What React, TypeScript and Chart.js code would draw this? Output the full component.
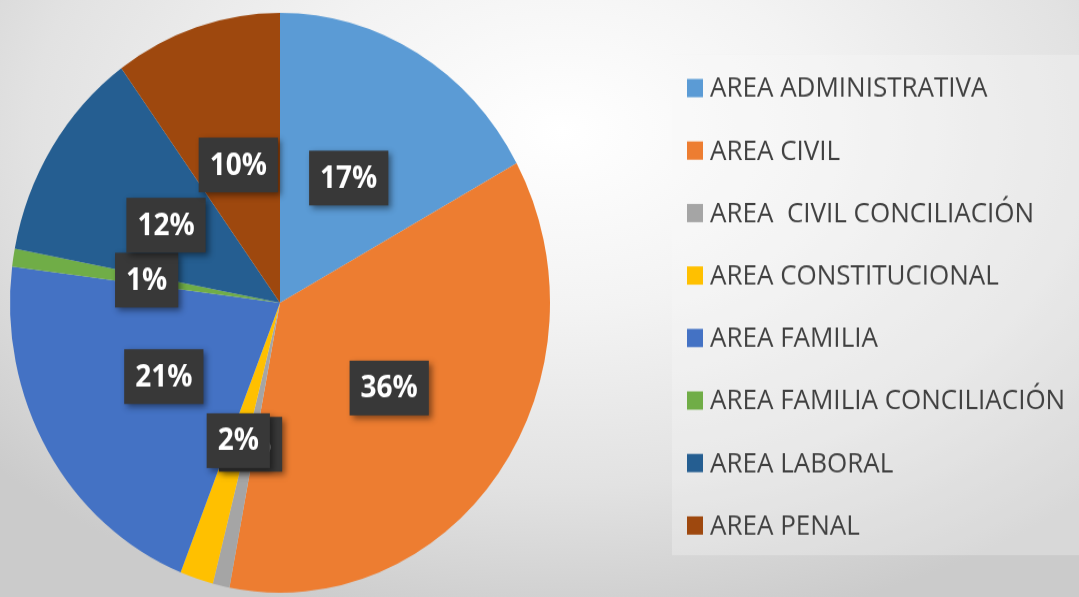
import React, { useEffect, useRef } from "react";
import { Chart, registerables } from "chart.js";

Chart.register(...registerables);

const categories = [
  "AREA ADMINISTRATIVA",
  "AREA CIVIL",
  "AREA  CIVIL CONCILIACIÓN",
  "AREA CONSTITUCIONAL",
  "AREA FAMILIA",
  "AREA FAMILIA CONCILIACIÓN",
  "AREA LABORAL",
  "AREA PENAL",
];
const shares = [17, 36, 1, 2, 21, 1, 12, 10];
const valueLabels = ["17%", "36%", "1%", "2%", "21%", "1%", "12%", "10%"];
const sliceColors = [
  "#5B9BD5",
  "#ED7D31",
  "#A5A5A5",
  "#FFC000",
  "#4472C4",
  "#70AD47",
  "#255E91",
  "#9E480E",
];

const W = 1079;
const H = 556;
const SY = 597 / 556;

const labelPlugin = {
  id: "boxLabels",
  afterDatasetsDraw(chart: any) {
    const ctx = chart.ctx;
    const meta = chart.getDatasetMeta(0);
    ctx.save();
    ctx.font = "bold 28px 'Open Sans', sans-serif";
    ctx.textAlign = "center";
    ctx.textBaseline = "middle";
    meta.data.forEach((arc: any, i: number) => {
      const p = arc.tooltipPosition();
      const txt = valueLabels[i];
      const tw = ctx.measureText(txt).width;
      const bw = tw + 22;
      const bh = 51;
      ctx.save();
      ctx.shadowColor = "rgba(0,0,0,0.45)";
      ctx.shadowBlur = 6;
      ctx.shadowOffsetX = 3;
      ctx.shadowOffsetY = 3;
      ctx.fillStyle = "#383838";
      ctx.fillRect(p.x - bw / 2, p.y - bh / 2, bw, bh);
      ctx.restore();
      ctx.fillStyle = "#ffffff";
      ctx.fillText(txt, p.x, p.y + 1);
    });
    ctx.restore();
  },
};

const legendPlugin = {
  id: "sideLegend",
  afterDraw(chart: any) {
    const ctx = chart.ctx;
    ctx.save();
    ctx.fillStyle = "rgba(250,250,250,0.3)";
    ctx.fillRect(672, 51, W - 672, 466);
    ctx.font = "26px 'Open Sans', sans-serif";
    ctx.textBaseline = "middle";
    ctx.textAlign = "left";
    const labels: string[] = chart.data.labels;
    const colors: string[] = chart.data.datasets[0].backgroundColor;
    labels.forEach((lab, i) => {
      const y = 82 + i * 58.2;
      ctx.fillStyle = colors[i];
      ctx.fillRect(687, y - 8.5, 16, 17);
      ctx.fillStyle = "#404040";
      ctx.fillText(lab, 710, y + 1);
    });
    ctx.restore();
  },
};

export default function App() {
  const ref = useRef<HTMLCanvasElement | null>(null);
  useEffect(() => {
    if (!ref.current) return;
    const chart = new Chart(ref.current, {
      type: "pie",
      data: {
        labels: categories,
        datasets: [
          {
            data: shares,
            backgroundColor: sliceColors,
            borderWidth: 0,
          },
        ],
      },
      options: {
        animation: false,
        responsive: false,
        devicePixelRatio: 1,
        layout: { padding: { left: 10, right: W - 550, top: 12, bottom: H - 552 } },
        plugins: {
          legend: { display: false },
          tooltip: { enabled: false },
        },
      },
      plugins: [labelPlugin, legendPlugin],
    });
    return () => chart.destroy();
  }, []);
  return (
    <div
      style={{
        position: "fixed",
        left: 0,
        top: 0,
        width: 1079,
        height: 597,
        overflow: "hidden",
        background:
          "radial-gradient(ellipse 70% 85% at 52% 22%, #ffffff 0%, #f3f3f3 35%, #e2e2e2 70%, #cbcbcb 100%)",
      }}
    >
      <div
        style={{
          width: W,
          height: H,
          transform: `scaleY(${SY})`,
          transformOrigin: "top left",
        }}
      >
        <canvas ref={ref} width={W} height={H} style={{ display: "block" }} />
      </div>
    </div>
  );
}
